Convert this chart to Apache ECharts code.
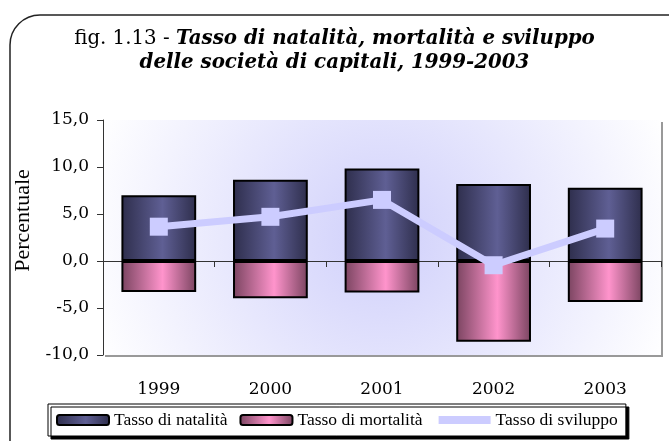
<!DOCTYPE html>
<html>
<head>
<meta charset="utf-8">
<script src="https://cdn.jsdelivr.net/npm/echarts@6/dist/echarts.min.js"></script>
<style>
html,body{margin:0;padding:0;background:#fff;}
#chart{width:669px;height:441px;}
</style>
</head>
<body>
<div id="chart"></div>
<script>
var categories = ['1999', '2000', '2001', '2002', '2003'];
var natalita = [7.0, 8.65, 9.85, 8.2, 7.8];
var mortalita = [-3.3, -3.95, -3.35, -8.6, -4.35];
var sviluppo = [3.65, 4.7, 6.5, -0.45, 3.45];
var yTicks = { min: -10, max: 15, interval: 5 };
var seriesNames = ['Tasso di natalità', 'Tasso di mortalità', 'Tasso di sviluppo'];

var chart = echarts.init(document.getElementById('chart'));

function hGrad(edge, mid) {
  return new echarts.graphic.LinearGradient(0, 0, 1, 0, [
    { offset: 0, color: edge },
    { offset: 0.55, color: mid },
    { offset: 1, color: edge }
  ]);
}

var option = {
  animation: false,
  backgroundColor: '#ffffff',
  graphic: [{
    type: 'rect',
    z: -10,
    shape: { x: 10, y: 15, width: 700, height: 470, r: 30 },
    style: { fill: null, stroke: '#222', lineWidth: 1.5 }
  }],
  title: {
    left: 'center',
    top: 22,
    text: '{n|fig. 1.13 - }{b|Tasso di natalità, mortalità e sviluppo}\n{b|delle società di capitali, 1999-2003}',
    textStyle: {
      rich: {
        n: { fontFamily: 'DejaVu Serif', fontSize: 19.8, fontWeight: 'normal', color: '#000', lineHeight: 24 },
        b: { fontFamily: 'DejaVu Serif', fontSize: 19.8, fontStyle: 'italic', fontWeight: 'bold', color: '#000', lineHeight: 24 }
      }
    }
  },
  grid: {
    left: 103, right: 8, top: 120, bottom: 86,
    show: true,
    borderWidth: 0,
    backgroundColor: new echarts.graphic.RadialGradient(0.5, 0.5, 1.3, [
      { offset: 0, color: '#d0d0fb' },
      { offset: 1, color: '#ffffff' }
    ]),
    shadowColor: '#999',
    shadowOffsetX: 2,
    shadowOffsetY: 2,
    shadowBlur: 0
  },
  legend: {
    left: 48,
    top: 404,
    padding: [7, 8, 7, 8],
    itemGap: 12,
    itemWidth: 52,
    itemHeight: 10,
    backgroundColor: '#fff',
    borderColor: '#000',
    borderWidth: 1,
    shadowColor: '#000',
    shadowOffsetX: 3,
    shadowOffsetY: 3,
    shadowBlur: 0,
    lineStyle: { width: 8 },
    textStyle: { fontFamily: 'Liberation Serif', fontSize: 17.5, color: '#000' },
    data: seriesNames
  },
  xAxis: [{
    type: 'category',
    data: categories,
    position: 'bottom',
    axisLine: { show: false, onZero: false },
    axisTick: { show: false },
    axisLabel: { margin: 26, fontFamily: 'DejaVu Serif', fontSize: 17, color: '#000' }
  }, {
    type: 'category',
    data: categories,
    position: 'top',
    axisLine: { show: true, onZero: true, lineStyle: { color: '#333', width: 1 } },
    axisTick: { show: true, inside: true, length: 6, lineStyle: { color: '#333' } },
    axisLabel: { show: false }
  }],
  yAxis: {
    type: 'value',
    min: yTicks.min, max: yTicks.max, interval: yTicks.interval,
    name: 'Percentuale',
    nameLocation: 'middle',
    nameGap: 65,
    nameTextStyle: { fontFamily: 'Liberation Serif', fontSize: 22, color: '#000', padding: [0, 0, 0, 34] },
    axisLine: { show: true, lineStyle: { color: '#333', width: 1 } },
    axisTick: { show: true, length: 6, lineStyle: { color: '#333' } },
    splitLine: { show: false },
    axisLabel: {
      margin: 14,
      fontFamily: 'DejaVu Serif', fontSize: 17, color: '#000',
      formatter: function (v) { return v.toFixed(1).replace('.', ','); }
    }
  },
  series: [{
    name: seriesNames[0],
    type: 'bar',
    stack: 'tot',
    xAxisIndex: 0,
    barCategoryGap: '33%',
    data: natalita,
    itemStyle: { color: hGrad('#2e2e4c', '#5f5f94'), borderColor: '#000', borderWidth: 2 }
  }, {
    name: seriesNames[1],
    type: 'bar',
    stack: 'tot',
    xAxisIndex: 0,
    barCategoryGap: '33%',
    data: mortalita,
    itemStyle: { color: hGrad('#7a4460', '#ff94cc'), borderColor: '#000', borderWidth: 2 }
  }, {
    name: seriesNames[2],
    type: 'line',
    xAxisIndex: 0,
    z: 5,
    data: sviluppo,
    symbol: 'rect',
    symbolSize: 18,
    itemStyle: { color: '#ccccff' },
    lineStyle: { color: '#ccccff', width: 7 }
  }]
};
chart.setOption(option);
</script>
</body>
</html>
